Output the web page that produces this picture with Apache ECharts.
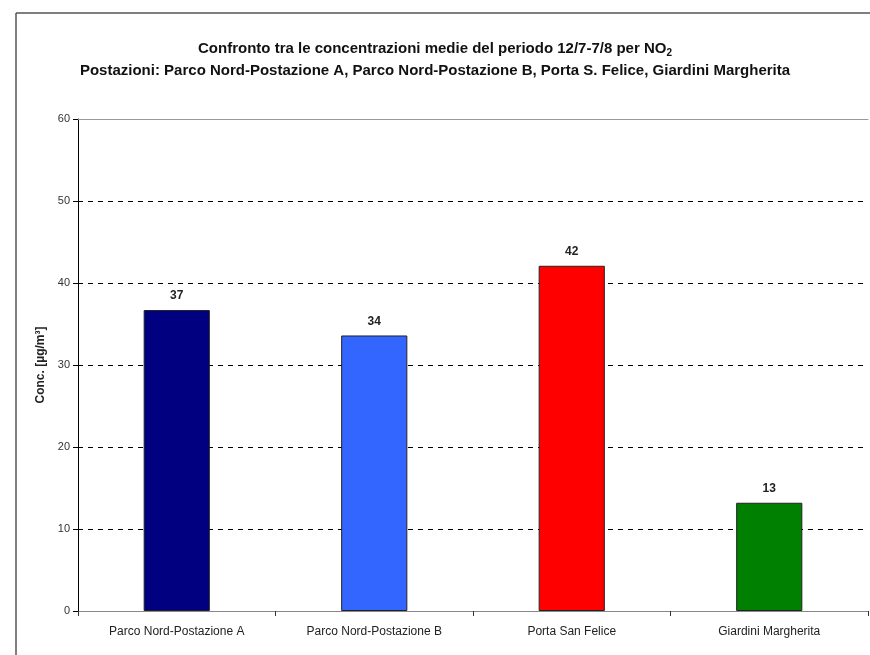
<!DOCTYPE html>
<html><head><meta charset="utf-8">
<script src="https://cdn.jsdelivr.net/npm/echarts@6/dist/echarts.min.js"></script>
<style>html,body{margin:0;padding:0;background:#fff}#c{width:870px;height:655px}</style>
</head><body><div id="c"></div>
<script>
const categories = ['Parco Nord-Postazione A', 'Parco Nord-Postazione B', 'Porta San Felice', 'Giardini Margherita'];
const values = [36.7, 33.6, 42.1, 13.2];
const barColors = ['#000080', '#3366FF', '#FF0000', '#008000'];
const yTicks = [0, 10, 20, 30, 40, 50, 60];

const FONT = '"Liberation Sans Narrow", "Liberation Sans", Arial, sans-serif';
const chart = echarts.init(document.getElementById('c'));
chart.setOption({
  animation: false,
  backgroundColor: '#fff',
  textStyle: { fontFamily: FONT },
  title: {
    left: 'center', top: 35, itemGap: 7,
    text: '{t|Confronto tra le concentrazioni medie del periodo 12/7-7/8 per NO}{s|2}',
    subtext: 'Postazioni: Parco Nord-Postazione A, Parco Nord-Postazione B, Porta S. Felice, Giardini Margherita',
    textStyle: {
      rich: {
        t: { fontFamily: FONT, fontSize: 15, fontWeight: 'bold', color: '#111' },
        s: { fontFamily: FONT, fontSize: 10, fontWeight: 'bold', color: '#111', verticalAlign: 'bottom', padding: [8, 0, 0, 0] }
      }
    },
    subtextStyle: { fontFamily: FONT, fontSize: 15, fontWeight: 'bold', color: '#111' }
  },
  graphic: [
    { type: 'line', shape: { x1: 16, y1: 13, x2: 870, y2: 13 }, style: { stroke: '#555', lineWidth: 1.5 } },
    { type: 'line', shape: { x1: 16, y1: 13, x2: 16, y2: 655 }, style: { stroke: '#555', lineWidth: 1.5 } }
  ],
  grid: { left: 78, right: 2, top: 119, bottom: 44 },
  xAxis: [{
    type: 'category', data: categories,
    axisLine: { lineStyle: { color: '#888', width: 1 } },
    axisTick: { show: true, length: 5, lineStyle: { color: '#333' } },
    axisLabel: { fontFamily: FONT, fontSize: 12, color: '#222', margin: 15 }
  }, {
    type: 'category', data: categories, position: 'top',
    axisLine: { show: true, lineStyle: { color: '#999', width: 1 } },
    axisTick: { show: false }, axisLabel: { show: false }
  }],
  yAxis: {
    type: 'value', min: 0, max: 60, interval: 10,
    name: 'Conc. [µg/m³]', nameLocation: 'middle', nameGap: 28,
    nameTextStyle: { fontFamily: FONT, fontSize: 12, fontWeight: 'bold', color: '#222' },
    axisLine: { show: true, lineStyle: { color: '#000', width: 1 } },
    axisTick: { show: true, length: 5, lineStyle: { color: '#000' } },
    axisLabel: { fontFamily: '"Liberation Sans", Arial, sans-serif', fontSize: 11, color: '#333', margin: 8,
      formatter: v => yTicks.includes(v) ? String(v) : '' },
    splitLine: { show: true, showMaxLine: false, lineStyle: { color: '#000', type: [5, 5], width: 1 } }
  },
  series: [{
    type: 'bar', xAxisIndex: 0, barWidth: '33.5%',
    data: values.map((v, i) => ({ value: v, itemStyle: { color: barColors[i] } })),
    itemStyle: { borderColor: '#222', borderWidth: 1 },
    label: { show: true, position: 'top', distance: 8, fontFamily: '"Liberation Sans", Arial, sans-serif',
      fontSize: 12, fontWeight: 'bold', color: '#222', formatter: p => Math.round(p.value) }
  }]
});
</script></body></html>
